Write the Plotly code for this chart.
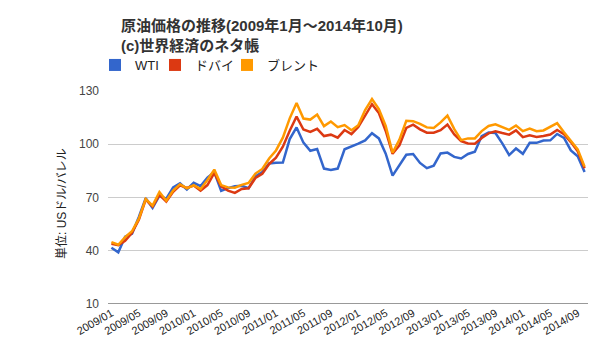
import plotly.graph_objects as go

months = [f"{y}/{m:02d}" for y in range(2009, 2015) for m in range(1, 13)][:70]

wti = [41.7, 39.1, 47.9, 49.6, 59.0, 69.6, 64.1, 71.0, 69.4, 75.7, 78.0, 74.5,
       78.3, 76.4, 81.2, 84.3, 73.7, 75.3, 76.3, 76.6, 75.2, 81.9, 84.3, 89.2,
       89.6, 89.7, 102.9, 109.5, 100.9, 96.3, 97.3, 86.3, 85.5, 86.3, 97.2, 98.6,
       100.3, 102.2, 106.2, 103.3, 94.7, 82.3, 87.9, 94.1, 94.5, 89.5, 86.5, 87.9,
       94.8, 95.3, 92.9, 92.0, 94.5, 95.8, 104.6, 106.6, 106.3, 100.5, 93.9, 97.6,
       94.6, 100.8, 100.8, 102.1, 102.2, 105.8, 103.6, 96.5, 93.2, 84.4]

dubai = [43.9, 43.1, 45.6, 50.1, 57.4, 68.8, 64.9, 71.5, 67.7, 73.2, 76.9, 75.4,
         76.7, 73.9, 77.0, 83.9, 76.3, 73.9, 72.6, 74.8, 75.2, 81.0, 83.4, 88.9,
         92.4, 98.6, 107.6, 115.6, 108.3, 107.0, 108.7, 104.6, 105.4, 103.7, 108.0, 105.7,
         109.7, 116.1, 122.6, 117.6, 107.5, 94.6, 99.4, 109.2, 111.0, 108.4, 106.5, 106.5,
         107.9, 111.1, 105.5, 101.8, 100.4, 100.3, 103.5, 106.1, 107.3, 106.3, 105.4, 107.8,
         104.0, 105.0, 104.1, 104.6, 105.5, 108.1, 105.7, 101.2, 96.0, 86.5]

brent = [44.9, 43.4, 47.7, 51.0, 58.1, 69.1, 65.4, 73.1, 68.2, 73.9, 77.5, 75.2,
         76.9, 74.7, 79.9, 85.7, 77.0, 75.7, 75.5, 77.1, 78.2, 83.5, 86.1, 92.0,
         96.5, 103.7, 114.6, 123.3, 114.5, 113.9, 116.7, 110.2, 112.8, 109.6, 110.8, 107.9,
         110.7, 119.3, 125.5, 119.8, 110.3, 95.2, 102.6, 113.2, 113.0, 111.5, 109.5, 109.2,
         112.3, 116.1, 108.5, 102.3, 103.3, 103.3, 107.4, 110.3, 111.2, 109.5, 108.1, 110.6,
         107.4, 108.8, 107.4, 107.8, 109.7, 111.9, 106.8, 101.6, 97.1, 87.4]

series_names = ["WTI", "ドバイ", "ブレント"]
series_values = [wti, dubai, brent]
colors = ["#3366CC", "#DC3912", "#FF9900"]

y_ticks = [10, 40, 70, 100, 130]
x_ticks = months[::4]

FONT = "Liberation Sans, Arial, Noto Sans CJK JP, sans-serif"
W, H = 592, 352  # page body has an 8px default margin

fig = go.Figure()
for name, vals, c in zip(series_names, series_values, colors):
    fig.add_trace(go.Scatter(x=months, y=vals, mode="lines", name=name,
                             line=dict(color=c, width=2.5), showlegend=False))

legend_ids = ["legend", "legend2", "legend3"]
legend_x = [87, 147, 219]
for name, c, lid in zip(series_names, colors, legend_ids):
    fig.add_trace(go.Scatter(x=[None], y=[None], mode="markers", name=name, legend=lid,
                             marker=dict(symbol="square", size=12, color=c)))

def leg(xpx):
    return dict(orientation="h", xref="container", yref="container",
                x=xpx / W, xanchor="left", y=1 - 57/H, yanchor="middle",
                font=dict(size=13, color="#222222"), itemwidth=30,
                bgcolor="rgba(0,0,0,0)")

fig.update_layout(
    width=W, height=H,
    margin=dict(l=100, r=12, t=83, b=56, autoexpand=False),
    paper_bgcolor="white", plot_bgcolor="white",
    font=dict(family=FONT, color="#222222", size=12),
    title=dict(text="<b>原油価格の推移(2009年1月～2014年10月)<br>(c)世界経済のネタ帳</b>",
               x=113/W, xanchor="left", xref="container", y=1 - 23/H, yanchor="top",
               yref="container", font=dict(size=15, color="#333333")),
    legend=leg(legend_x[0]), legend2=leg(legend_x[1]), legend3=leg(legend_x[2]),
    xaxis=dict(type="category", tickmode="array", tickvals=x_ticks, ticktext=x_ticks,
               tickangle=-30, tickfont=dict(size=11, color="#222222"), automargin=False,
               showgrid=False, showline=False, ticks="", range=[-0.5, 69.5]),
    yaxis=dict(range=[10, 130], tickvals=y_ticks, showgrid=True, gridcolor="#cccccc",
               gridwidth=1, zeroline=False, showline=False, ticks="", automargin=False,
               tickfont=dict(size=12, color="#444444"), ticklabelstandoff=8),
    annotations=[dict(text="単位: USドル/バレル", textangle=-90, showarrow=False,
                      xref="paper", yref="paper", x=(62 - 108) / 480, y=(304 - 204) / 213,
                      xanchor="center", yanchor="middle",
                      font=dict(size=12, color="#222222"))],
)
fig.add_hline(y=10, line=dict(color="#333333", width=1))

fig.write_html("out.html")
